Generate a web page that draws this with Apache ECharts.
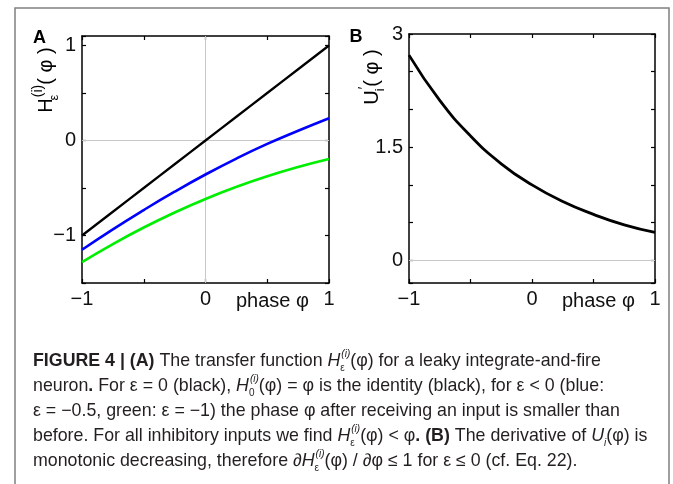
<!DOCTYPE html>
<html><head><meta charset="utf-8">
<script src="https://cdn.jsdelivr.net/npm/echarts@6/dist/echarts.min.js"></script>
<style>html,body{margin:0;padding:0;background:#fff}#c{width:673px;height:484px}</style>
</head><body><div id="c"></div>
<script>
// ---- data ----
const phase  = [-1, -0.75, -0.5, -0.25, 0, 0.25, 0.5, 0.75, 1];
const hBlack = [-1, -0.75, -0.5, -0.25, 0, 0.25, 0.5, 0.75, 1];          // eps = 0
const hBlue  = [-1.15, -0.935, -0.732, -0.539, -0.358, -0.19, -0.036, 0.103, 0.235];   // eps = -0.5
const hGreen = [-1.28, -1.09, -0.916, -0.758, -0.615, -0.488, -0.376, -0.279, -0.195]; // eps = -1
const uPrime = [2.72, 2.12, 1.65, 1.28, 1.0, 0.78, 0.61, 0.47, 0.37];
const xTickLabels  = [-1, 0, 1];
const yTickLabelsA = [-1, 0, 1];
const yTickLabelsB = [0, 1.5, 3];
const panelLetters = ['A', 'B'];
const xAxisTitle = 'phase φ';
const captionLines = [
  '{b|FIGURE 4 | (A)} The transfer function {it|H}{sb|ε}{sp|(i)}(φ) for a leaky integrate-and-fire',
  'neuron{b|.} For ε = 0 (black), {it|H}{sb|0}{sp|(i)}(φ) = φ is the identity (black), for ε < 0 (blue:',
  'ε = −0.5, green: ε = −1) the phase φ after receiving an input is smaller than',
  'before. For all inhibitory inputs we find {it|H}{sb|ε}{sp|(i)}(φ) < φ{b|.} {b|(B)} The derivative of {it|U}{sbi|i}(φ) is',
  'monotonic decreasing, therefore ∂{it|H}{sb|ε}{sp|(i)}(φ) / ∂φ ≤ 1 for ε ≤ 0 (cf. Eq. 22).'
];

// ---- chart ----
const FONT = '"Liberation Sans", Arial, Helvetica, sans-serif';
const TF = 20;   // tick / axis font size
const CF = 17.8; // caption font size
const chart = echarts.init(document.getElementById('c'), null, {renderer: 'canvas'});
const pairs = ys => phase.map((x, i) => [x, ys[i]]);
function fmt(list) {
  return v => {
    for (const t of list) if (Math.abs(v - t) < 1e-9) return String(t).replace('-', '\u2212');
    return '';
  };
}
const axisLine = {show: true, onZero: false, lineStyle: {color: '#000', width: 1.5}};
const tick = {show: true, inside: true, length: 4, lineStyle: {color: '#000', width: 1.2}};
const lbl = labels => labels
  ? {show: true, margin: 6, fontFamily: FONT, fontSize: TF, color: '#111', formatter: fmt(labels)}
  : {show: false};
function xAx(grid, pos, labels) {
  return {type: 'value', gridIndex: grid, position: pos, min: -1, max: 1, interval: 0.5,
    axisLine, axisTick: tick, splitLine: {show: false}, axisLabel: lbl(labels)};
}
function yAxA(pos, labels) {
  return {type: 'value', gridIndex: 0, position: pos, min: -1.5, max: 1.1, interval: 0.5,
    axisLine, axisTick: tick, splitLine: {show: false}, axisLabel: lbl(labels)};
}
function yAxB(pos, labels) {
  return {type: 'value', gridIndex: 1, position: pos, min: -0.3, max: 3, splitNumber: 7,
    minInterval: 0.5, maxInterval: 0.5,
    axisLine, axisTick: tick, splitLine: {show: false}, axisLabel: lbl(labels)};
}
const zeroLine = (items) => ({
  silent: true, symbol: 'none', z: 1, label: {show: false},
  lineStyle: {color: '#c8c8c8', width: 1, type: 'solid'}, data: items
});

const capRich = {
  b:   {fontFamily: FONT, fontSize: CF, fontWeight: 'bold', lineHeight: 24, color: '#231f20'},
  it:  {fontFamily: FONT, fontSize: CF, fontStyle: 'italic', lineHeight: 24, color: '#231f20'},
  sp:  {fontFamily: FONT, fontSize: 10, fontStyle: 'italic', lineHeight: 10, verticalAlign: 'top', color: '#231f20'},
  sb:  {fontFamily: FONT, fontSize: 10, lineHeight: 8, width: 1, verticalAlign: 'bottom', color: '#231f20'},
  sbi: {fontFamily: FONT, fontSize: 10, fontStyle: 'italic', lineHeight: 8, verticalAlign: 'bottom', color: '#231f20'}
};
const captionGraphics = captionLines.map((t, i) => ({
  type: 'text', x: 33, y: 349 + i * 25, silent: true,
  style: {text: t, rich: capRich, fontFamily: FONT, fontSize: CF, lineHeight: 24,
    fill: '#231f20', align: 'left', verticalAlign: 'top'}
}));

const labRich = {
  h:  {fontFamily: FONT, fontSize: 20, lineHeight: 30, color: '#111'},
  sb: {fontFamily: FONT, fontSize: 13, lineHeight: 10, width: 1, verticalAlign: 'bottom', color: '#111'},
  sp: {fontFamily: FONT, fontSize: 14, lineHeight: 13, verticalAlign: 'top', color: '#111'},
  p:  {fontFamily: FONT, fontSize: 20, lineHeight: 30, color: '#111'}
};

const option = {
  animation: false,
  backgroundColor: '#fff',
  grid: [
    {left: 82, top: 36, width: 247, height: 247},
    {left: 409, top: 34, width: 246, height: 249}
  ],
  xAxis: [xAx(0, 'bottom', xTickLabels), xAx(0, 'top', null), xAx(1, 'bottom', xTickLabels), xAx(1, 'top', null)],
  yAxis: [yAxA('left', yTickLabelsA), yAxA('right', null), yAxB('left', yTickLabelsB), yAxB('right', null)],
  series: [
    {type: 'line', xAxisIndex: 0, yAxisIndex: 0, data: pairs(hBlack), smooth: true, symbol: 'none',
      lineStyle: {color: '#000', width: 2.3}, z: 4,
      markLine: zeroLine([{xAxis: 0}, {yAxis: 0}])},
    {type: 'line', xAxisIndex: 0, yAxisIndex: 0, data: pairs(hBlue), smooth: true, symbol: 'none',
      lineStyle: {color: '#0000ff', width: 2.6}, z: 3},
    {type: 'line', xAxisIndex: 0, yAxisIndex: 0, data: pairs(hGreen), smooth: true, symbol: 'none',
      lineStyle: {color: '#00ee00', width: 2.6}, z: 3},
    {type: 'line', xAxisIndex: 2, yAxisIndex: 2, data: pairs(uPrime), smooth: true, symbol: 'none',
      lineStyle: {color: '#000', width: 2.8}, z: 4,
      markLine: zeroLine([{yAxis: 0}])}
  ],
  graphic: [
    {type: 'rect', silent: true, shape: {x: 15, y: 8, width: 654, height: 520},
      style: {fill: 'none', stroke: '#808080', lineWidth: 1.5}},
    {type: 'text', x: 39.5, y: 38, silent: true,
      style: {text: panelLetters[0], fontFamily: FONT, fontSize: 18, fontWeight: 'bold', fill: '#000', align: 'center', verticalAlign: 'middle'}},
    {type: 'text', x: 356, y: 37, silent: true,
      style: {text: panelLetters[1], fontFamily: FONT, fontSize: 18, fontWeight: 'bold', fill: '#000', align: 'center', verticalAlign: 'middle'}},
    {type: 'text', x: 236, y: 301, silent: true,
      style: {text: xAxisTitle, fontFamily: FONT, fontSize: TF, fill: '#111', align: 'left', verticalAlign: 'middle'}},
    {type: 'text', x: 562, y: 301, silent: true,
      style: {text: xAxisTitle, fontFamily: FONT, fontSize: TF, fill: '#111', align: 'left', verticalAlign: 'middle'}},
    {type: 'text', x: 46, y: 80, rotation: Math.PI / 2, silent: true,
      style: {text: '{h|H}{sb|ε}{sp|(i)}{p|( φ )}', rich: labRich, align: 'center', verticalAlign: 'middle'}},
    {type: 'text', x: 372, y: 77, rotation: Math.PI / 2, silent: true,
      style: {text: '{h|U}{sb|i}{sp|′}{p|( φ )}', rich: labRich, align: 'center', verticalAlign: 'middle'}}
  ].concat(captionGraphics)
};
chart.setOption(option);
</script>
</body></html>
